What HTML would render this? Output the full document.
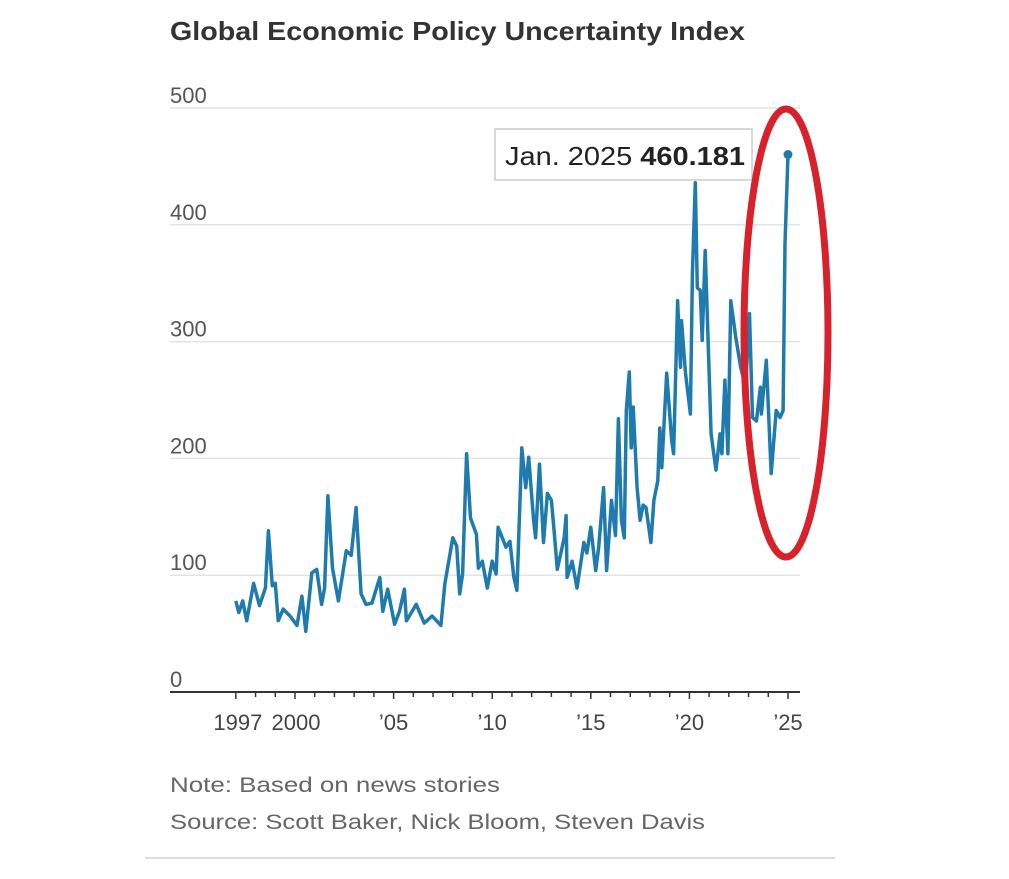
<!DOCTYPE html>
<html><head><meta charset="utf-8"><style>
body{margin:0;background:#fff;width:1009px;height:874px;overflow:hidden;font-family:"Liberation Sans",sans-serif}
</style></head><body>
<svg width="1009" height="874">
<text x="170" y="40" font-size="26" font-weight="bold" fill="#333" textLength="575" lengthAdjust="spacingAndGlyphs">Global Economic Policy Uncertainty Index</text>
<g id="grid"></g>
<g id="xaxis"></g>
<path id="line" fill="none" stroke="#1f7bae" stroke-width="3.5" stroke-linejoin="round"/>
<circle id="dot" r="4.5" fill="#1f7bae"/>
<g>
<rect x="495" y="129" width="257" height="51" fill="#fff" stroke="#ccc" stroke-width="1.5"/>
<text x="505" y="165" font-size="26" fill="#222" textLength="240" lengthAdjust="spacingAndGlyphs">Jan. 2025 <tspan font-weight="bold">460.181</tspan></text>
</g>
<ellipse cx="786" cy="333" rx="42" ry="224" fill="none" stroke="#d7212b" stroke-width="7"/>
<text x="170" y="792" font-size="21" fill="#666" textLength="330" lengthAdjust="spacingAndGlyphs">Note: Based on news stories</text>
<text x="170" y="829" font-size="21" fill="#666" textLength="535" lengthAdjust="spacingAndGlyphs">Source: Scott Baker, Nick Bloom, Steven Davis</text>
<line x1="145" y1="858" x2="835" y2="858" stroke="#ddd" stroke-width="2"/>
</svg>
<script>
const years=[1997.0,1997.15,1997.35,1997.55,1997.9,1998.2,1998.5,1998.65,1998.85,1999.0,1999.15,1999.4,1999.75,2000.1,2000.35,2000.55,2000.85,2001.1,2001.35,2001.5,2001.67,2001.9,2002.2,2002.6,2002.85,2003.1,2003.35,2003.6,2003.9,2004.3,2004.45,2004.7,2005.05,2005.3,2005.55,2005.65,2006.15,2006.55,2006.95,2007.4,2007.6,2008.0,2008.2,2008.35,2008.5,2008.7,2008.9,2009.2,2009.3,2009.5,2009.75,2010.0,2010.2,2010.3,2010.7,2010.9,2011.1,2011.25,2011.5,2011.7,2011.85,2012.1,2012.2,2012.4,2012.6,2012.8,2013.0,2013.15,2013.3,2013.65,2013.75,2013.8,2014.05,2014.3,2014.65,2014.8,2015.0,2015.25,2015.4,2015.65,2015.8,2016.05,2016.25,2016.4,2016.55,2016.7,2016.8,2016.95,2017.05,2017.15,2017.35,2017.5,2017.65,2017.8,2018.05,2018.2,2018.4,2018.5,2018.6,2018.85,2019.1,2019.2,2019.4,2019.55,2019.6,2019.8,2020.05,2020.15,2020.3,2020.4,2020.55,2020.65,2020.8,2020.95,2021.1,2021.35,2021.55,2021.65,2021.8,2021.95,2022.1,2022.35,2022.6,2022.85,2023.05,2023.2,2023.4,2023.6,2023.65,2023.9,2024.15,2024.4,2024.6,2024.75,2024.85,2025.0];
const values=[78,68,78,61,93,74,89,138,91,93,61,71,65,57,82,52,102,105,75,89,168,106,78,121,117,158,84,75,76,98,69,88,58,69,88,61,75,59,65,57,93,132,125,84,101,204,149,135,106,112,89,112,101,141,124,129,98,87,209,175,201,147,132,195,128,170,164,136,105,132,151,98,112,89,128,119,141,104,124,175,104,164,134,234,147,132,241,274,209,244,175,147,160,158,128,164,181,226,192,273,215,204,335,278,318,273,238,358,436,346,344,301,378,301,221,190,221,204,267,204,335,304,278,261,324,235,232,261,238,284,187,241,235,241,384,460.181];
const yTicks=[0,100,200,300,400,500];
const xLabels=[[1997,"1997"],[2000,"2000"],[2005,"’05"],[2010,"’10"],[2015,"’15"],[2020,"’20"],[2025,"’25"]];
const NS="http://www.w3.org/2000/svg";
const X=y=>295+(y-2000)*19.72;
const Y=v=>692-v*1.168;
const grid=document.getElementById('grid');
yTicks.forEach(t=>{
  if(t>0){const l=document.createElementNS(NS,'line');
  l.setAttribute('x1',170);l.setAttribute('x2',800);l.setAttribute('y1',Y(t));l.setAttribute('y2',Y(t));
  l.setAttribute('stroke','#e3e3e3');l.setAttribute('stroke-width','1.5');
  
  
  grid.appendChild(l);}
  const tx=document.createElementNS(NS,'text');
  tx.setAttribute('x',170);tx.setAttribute('y',Y(t)-5);tx.setAttribute('font-size','22');tx.setAttribute('fill','#555');
  tx.textContent=t;
  
  
  grid.appendChild(tx);
});
const xa=document.getElementById('xaxis');
const base=document.createElementNS(NS,'line');
base.setAttribute('x1',170);base.setAttribute('x2',800);base.setAttribute('y1',692);base.setAttribute('y2',692);
base.setAttribute('stroke','#333');base.setAttribute('stroke-width','2');


xa.appendChild(base);
for(let yr=1997;yr<=2025;yr++){
  const t=document.createElementNS(NS,'line');
  const major=xLabels.some(d=>d[0]===yr);
  t.setAttribute('x1',X(yr));t.setAttribute('x2',X(yr));t.setAttribute('y1',692);t.setAttribute('y2',major?699:697);
  t.setAttribute('stroke','#333');t.setAttribute('stroke-width','1.5');
  
  
  xa.appendChild(t);
}
xLabels.forEach(d=>{
  const tx=document.createElementNS(NS,'text');
  tx.setAttribute('x',X(d[0])+(d[0]===1997?2:d[0]===2000?1:0));tx.setAttribute('y',730);tx.setAttribute('font-size','22');
  tx.setAttribute('fill','#444');tx.setAttribute('text-anchor','middle');
  tx.textContent=d[1];
  
  
  xa.appendChild(tx);
});
document.getElementById('line').setAttribute('d',years.map((y,i)=>(i?'L':'M')+X(y).toFixed(1)+' '+Y(values[i]).toFixed(1)).join(' '));
const dot=document.getElementById('dot');
dot.setAttribute('cx',X(years[years.length-1]));dot.setAttribute('cy',Y(values[values.length-1]));
</script>
</body></html>
